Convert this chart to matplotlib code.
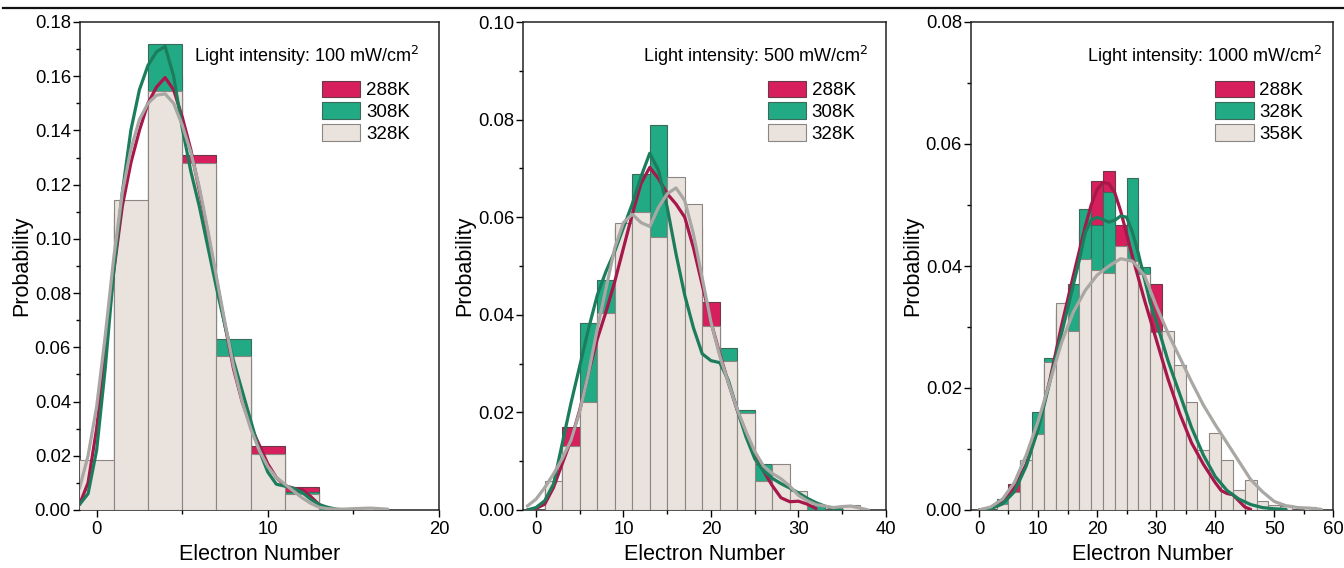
import matplotlib
matplotlib.use("Agg")
import matplotlib.pyplot as plt
from matplotlib.lines import Line2D
from matplotlib.ticker import MultipleLocator, FormatStrFormatter

plt.rcParams['font.family'] = ['Liberation Sans', 'DejaVu Sans']

# ---------------- data ----------------
# Panel 1: 100 mW/cm2
p1_edges = [-1, 1, 3, 5, 7, 9, 11, 13, 15]
p1_288 = [0.015, 0.110, 0.160, 0.131, 0.055, 0.0235, 0.0085, 0.0, 0.0]
p1_308 = [0.012, 0.105, 0.172, 0.122, 0.063, 0.019, 0.0068, 0.0008, 0.0]
p1_328 = [0.0185, 0.1145, 0.1545, 0.128, 0.0568, 0.0205, 0.006, 0.0, 0.0008]

p1_curve_x_288 = [-1, -0.5, 0, 0.5, 1, 1.5, 2, 2.5, 3, 3.5, 4, 4.5, 5, 5.5, 6, 6.5, 7, 7.5,
                  8, 8.5, 9, 9.5, 10, 10.5, 11, 11.5, 12, 12.5, 13, 13.5, 14]
p1_curve_288 = [0.002, 0.010, 0.030, 0.058, 0.088, 0.112, 0.128, 0.140, 0.150, 0.156, 0.1595,
                0.155, 0.145, 0.133, 0.118, 0.102, 0.085, 0.068, 0.052, 0.040, 0.031, 0.024,
                0.017, 0.012, 0.009, 0.008, 0.0075, 0.005, 0.002, 0.0005, 0.0]
p1_curve_x_308 = [-1, -0.5, 0, 0.5, 1, 1.5, 2, 2.5, 3, 3.5, 4, 4.5, 5, 5.5, 6, 6.5, 7, 7.5,
                  8, 8.5, 9, 9.5, 10, 10.5, 11, 11.5, 12, 12.5, 13, 13.5, 14, 14.5]
p1_curve_308 = [0.002, 0.006, 0.022, 0.052, 0.088, 0.117, 0.140, 0.155, 0.164, 0.169, 0.171,
                0.160, 0.141, 0.125, 0.112, 0.097, 0.082, 0.068, 0.055, 0.044, 0.033, 0.022,
                0.014, 0.0095, 0.0088, 0.008, 0.0065, 0.004, 0.002, 0.001, 0.0003, 0.0]
p1_curve_x_328 = [-1, -0.5, 0, 0.5, 1, 1.5, 2, 2.5, 3, 3.5, 4, 4.5, 5, 5.5, 6, 6.5, 7, 7.5,
                  8, 8.5, 9, 9.5, 10, 10.5, 11, 11.5, 12, 12.5, 13, 13.5, 14, 14.5, 15, 15.5,
                  16, 16.5, 17]
p1_curve_328 = [0.008, 0.020, 0.038, 0.064, 0.093, 0.117, 0.133, 0.144, 0.150, 0.153, 0.1535,
                0.150, 0.142, 0.132, 0.119, 0.103, 0.086, 0.069, 0.053, 0.040, 0.030, 0.022,
                0.016, 0.012, 0.0095, 0.007, 0.0045, 0.0025, 0.001, 0.0005, 0.0003, 0.0003,
                0.0005, 0.0006, 0.0007, 0.0005, 0.0003]

# Panel 2: 500 mW/cm2
p2_edges = [1, 3, 5, 7, 9, 11, 13, 15, 17, 19, 21, 23, 25, 27, 29, 31, 33, 35]
p2_288 = [0.004, 0.017, 0.021, 0.038, 0.058, 0.066, 0.070, 0.064, 0.058, 0.0426, 0.029,
          0.018, 0.008, 0.003, 0.002, 0.0, 0.0, 0.0]
p2_308 = [0.004, 0.012, 0.0384, 0.0471, 0.058, 0.0688, 0.0788, 0.052, 0.040, 0.031, 0.0332,
          0.0204, 0.0094, 0.006, 0.003, 0.001, 0.0, 0.0]
p2_328 = [0.006, 0.0131, 0.0221, 0.0404, 0.0589, 0.061, 0.0559, 0.0683, 0.0627, 0.0378,
          0.0306, 0.0199, 0.006, 0.0094, 0.0038, 0.0, 0.0, 0.001]

p2_curve_x_288 = list(range(-1, 33))
p2_curve_288 = [0.0, 0.0003, 0.0012, 0.0046, 0.0095, 0.0143, 0.0205, 0.0280, 0.0350, 0.0406,
                0.0468, 0.0537, 0.0606, 0.0669, 0.0702, 0.0679, 0.0648, 0.0627, 0.0600,
                0.0537, 0.0461, 0.0385, 0.0320, 0.0260, 0.0205, 0.0157, 0.0115, 0.0080,
                0.0050, 0.0025, 0.0017, 0.0018, 0.0012, 0.0003]
p2_curve_x_308 = list(range(-1, 36))
p2_curve_308 = [0.0, 0.0005, 0.0019, 0.0053, 0.0136, 0.0219, 0.0295, 0.0371, 0.0440, 0.0489,
                0.0530, 0.0579, 0.0627, 0.0683, 0.0731, 0.0696, 0.0620, 0.0525, 0.0440,
                0.0373, 0.0320, 0.0306, 0.0302, 0.0265, 0.0205, 0.0150, 0.0105, 0.0080,
                0.0065, 0.0054, 0.0045, 0.0035, 0.0024, 0.0015, 0.0008, 0.0003, 0.0]
p2_curve_x_328 = list(range(-1, 39))
p2_curve_328 = [0.0008, 0.0022, 0.0046, 0.0074, 0.0105, 0.0143, 0.0202, 0.0280, 0.0371,
                0.0454, 0.0537, 0.0589, 0.0606, 0.0589, 0.0581, 0.0620, 0.0648, 0.0660,
                0.0634, 0.0565, 0.0475, 0.0385, 0.0316, 0.0260, 0.0206, 0.0161, 0.0120,
                0.0090, 0.0075, 0.0064, 0.0049, 0.0030, 0.0019, 0.0011, 0.0008, 0.0005,
                0.0007, 0.0008, 0.0004, 0.0]

# Panel 3: 1000 mW/cm2
p3_edges = [3, 5, 7, 9, 11, 13, 15, 17, 19, 21, 23, 25, 27, 29, 31, 33, 35, 37, 39, 41, 43,
            45, 47, 49, 51, 53, 55]
p3_288 = [0.0005, 0.0043, 0.007, 0.013, 0.024, 0.033, 0.035, 0.046, 0.0539, 0.0555, 0.0467,
          0.050, 0.037, 0.0371, 0.021, 0.015, 0.010, 0.006, 0.004, 0.003, 0.0025, 0.001, 0.0,
          0.0, 0.0, 0.0, 0.0]
p3_328 = [0.0018, 0.003, 0.008, 0.0161, 0.0249, 0.032, 0.0371, 0.0494, 0.0467, 0.0521, 0.042,
          0.0544, 0.0398, 0.028, 0.026, 0.019, 0.013, 0.009, 0.006, 0.003, 0.002, 0.001,
          0.0005, 0.0005, 0.0009, 0.0, 0.0]
p3_358 = [0.001, 0.003, 0.0082, 0.0125, 0.0243, 0.0339, 0.0293, 0.0411, 0.0393, 0.0389,
          0.0432, 0.0408, 0.0387, 0.0292, 0.0293, 0.0238, 0.0177, 0.0099, 0.0127, 0.0082,
          0.0032, 0.0049, 0.0015, 0.0008, 0.0006, 0.0, 0.0005]

p3_curve_x_288 = [0, 2, 4, 6, 8, 10, 12, 14, 16, 18, 19, 20, 21, 22, 23, 24, 26, 28, 30, 32,
                  34, 36, 38, 40, 41, 42, 43, 44, 45, 46]
p3_curve_288 = [0.0, 0.0003, 0.0012, 0.0036, 0.0075, 0.0135, 0.0213, 0.0303, 0.0385, 0.0465,
                0.0500, 0.0525, 0.0537, 0.0535, 0.0520, 0.0490, 0.0415, 0.0345, 0.0280,
                0.0215, 0.0158, 0.0110, 0.0075, 0.0045, 0.0032, 0.0027, 0.0025, 0.0015,
                0.0005, 0.0001]
p3_curve_x_328 = [0, 2, 4, 6, 8, 10, 12, 14, 16, 17, 18, 19, 20, 21, 22, 23, 24, 25, 26, 27,
                  28, 29, 30, 32, 34, 36, 38, 40, 42, 44, 46, 48, 50, 52]
p3_curve_328 = [0.0, 0.0002, 0.001, 0.003, 0.0072, 0.0132, 0.021, 0.029, 0.037, 0.041,
                0.0455, 0.0475, 0.048, 0.0476, 0.0472, 0.0475, 0.0482, 0.048, 0.0455, 0.042,
                0.038, 0.034, 0.031, 0.0245, 0.019, 0.0135, 0.009, 0.0055, 0.0032, 0.0018,
                0.0009, 0.0004, 0.0002, 0.0001]
p3_curve_x_358 = [0, 2, 4, 6, 8, 10, 12, 14, 16, 18, 20, 22, 24, 26, 28, 30, 32, 34, 36, 38,
                  40, 42, 44, 46, 48, 50, 52, 54, 56, 58]
p3_curve_358 = [0.0, 0.0005, 0.0018, 0.0045, 0.009, 0.0145, 0.021, 0.0275, 0.0325, 0.036,
                0.0385, 0.040, 0.0412, 0.0408, 0.0385, 0.0335, 0.0290, 0.0250, 0.0210,
                0.0172, 0.0140, 0.0110, 0.0080, 0.0050, 0.0030, 0.0014, 0.0007, 0.0004,
                0.0003, 0.0001]

intensities = ["100", "500", "1000"]
labels = [["288K", "308K", "328K"], ["288K", "308K", "328K"], ["288K", "328K", "358K"]]

# ---------------- style ----------------
FILL = ["#D81F5D", "#22AA84", "#EAE2DC"]
LINE = ["#A8174C", "#1B7D5C", "#A9A7A4"]
EDGE = ["#6b3a48", "#3c6a5a", "#8c8682"]

fig = plt.figure(figsize=(13.44, 5.68), dpi=100)
H = 568.0
W = 1344.0
axes_px = [(80, 439), (523.3, 886), (971, 1333.3)]
top_px, bot_px = 22.0, 510.0

panels = [
    (p1_edges, [p1_288, p1_308, p1_328],
     [(p1_curve_x_288, p1_curve_288), (p1_curve_x_308, p1_curve_308), (p1_curve_x_328, p1_curve_328)],
     (-0.97, 20), (0, 0.18), 0.944),
    (p2_edges, [p2_288, p2_308, p2_328],
     [(p2_curve_x_288, p2_curve_288), (p2_curve_x_308, p2_curve_308), (p2_curve_x_328, p2_curve_328)],
     (-1.45, 40), (0, 0.10), 0.950),
    (p3_edges, [p3_288, p3_328, p3_358],
     [(p3_curve_x_288, p3_curve_288), (p3_curve_x_328, p3_curve_328), (p3_curve_x_358, p3_curve_358)],
     (-1.35, 60), (0, 0.08), 0.968),
]

for i, (edges, hists, curves, xl, yl, txt_x) in enumerate(panels):
    l, r = axes_px[i]
    ax = fig.add_axes([l / W, 1 - bot_px / H, (r - l) / W, (bot_px - top_px) / H])
    handles = []
    for k in range(3):
        bc = ax.bar(edges, hists[k], width=2, align='edge', color=FILL[k],
                    edgecolor=EDGE[k], linewidth=0.8, label=labels[i][k], zorder=2 + k)
        handles.append(bc)
    for k in range(3):
        cx, cy = curves[k]
        ax.plot(cx, cy, color=LINE[k], lw=2.3, zorder=6 + k, solid_capstyle='round')
    ax.set_xlim(*xl)
    ax.set_ylim(*yl)
    ax.xaxis.set_major_locator(MultipleLocator(10))
    ax.xaxis.set_minor_locator(MultipleLocator(5))
    ax.yaxis.set_major_locator(MultipleLocator(0.02))
    ax.yaxis.set_minor_locator(MultipleLocator(0.01))
    ax.yaxis.set_major_formatter(FormatStrFormatter('%.2f'))
    ax.tick_params(which='major', direction='out', length=5, width=1.0, labelsize=13.3,
                   colors='black')
    ax.tick_params(which='minor', direction='out', length=3, width=1.0)
    ax.tick_params(axis='x', pad=3)
    ax.tick_params(axis='y', pad=1.5)
    for s in ax.spines.values():
        s.set_linewidth(1.1)
        s.set_color('#222222')
    ax.set_xlabel("Electron Number", fontsize=15.5, labelpad=4)
    ax.set_ylabel("Probability", fontsize=15.5, labelpad=2)
    ax.text(txt_x, 0.918, "Light intensity: %s mW/cm$^2$" % intensities[i],
            transform=ax.transAxes, ha='right', va='baseline', fontsize=13)
    leg = ax.legend(handles=handles, loc='upper left', bbox_to_anchor=(0.674, 0.88),
                    frameon=False, fontsize=13.5, handlelength=2.05, handleheight=0.95,
                    labelspacing=0.18, handletextpad=0.3, borderpad=0.0, borderaxespad=0)

fig.add_artist(Line2D([0.002, 1.0], [1 - 8 / H, 1 - 8 / H], color='#111111', lw=1.6))

fig.savefig("out.png", dpi=100)
